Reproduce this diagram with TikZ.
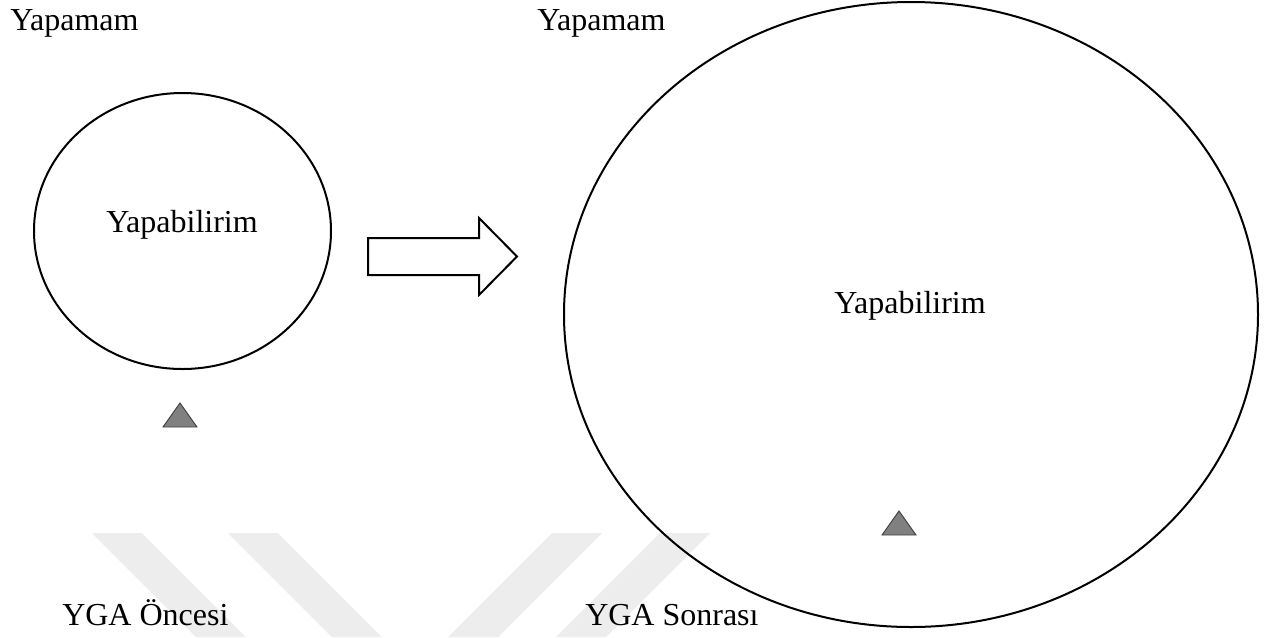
\documentclass[tikz,border=0pt]{standalone}
\usepackage{fontspec}
\setmainfont{Liberation Serif}
\begin{document}
\begin{tikzpicture}[x=0.75pt,y=-0.75pt,
  lbl/.style={inner sep=0pt, font=\fontsize{24}{28}\selectfont},
  ring/.style={draw=black, line width=1.5pt},
  blockarrow/.style={draw=black, fill=white, line width=1.5pt, line join=miter},
  marker/.style={draw=black!75, fill=black!50, line width=0.7pt, line join=miter},
  band/.style={fill=black!7}]
% page
\fill[white] (0,0) rectangle (1268,637);
\useasboundingbox (0,0) rectangle (1268,637);
% faint background stripes
\fill[band] (92,533) -- (142,533) -- (246,637) -- (196,637) -- cycle;
\fill[band] (228,533) -- (278,533) -- (382,637) -- (332,637) -- cycle;
\fill[band] (552,533) -- (602,533) -- (498,637) -- (448,637) -- cycle;
\fill[band] (660,533) -- (710,533) -- (606,637) -- (556,637) -- cycle;
% before: small region
\draw[ring] (182.5,231) ellipse [x radius=148.5, y radius=138];
\node[lbl, anchor=base] (canSmall) at (182,232) {Yapabilirim};
\node[lbl, anchor=base west] (cannotLeft) at (10,30) {Yapamam};
\draw[marker] (163,427) -- (180,403) -- (197,427) -- cycle;
\node[lbl, anchor=base west] (before) at (62,625) {YGA Öncesi};
% transition arrow
\draw[blockarrow] (368,238) -- (479,238) -- (479,218) -- (517,256.5)
  -- (479,295) -- (479,275) -- (368,275) -- cycle;
% after: large region
\draw[ring] (911,314.5) ellipse [x radius=347, y radius=312.5];
\node[lbl, anchor=base] (canLarge) at (910,313) {Yapabilirim};
\node[lbl, anchor=base west] (cannotRight) at (537,30) {Yapamam};
\draw[marker] (882,535) -- (899,511) -- (916,535) -- cycle;
\node[lbl, anchor=base west] (after) at (585,625) {YGA Sonrası};
\end{tikzpicture}
\end{document}
